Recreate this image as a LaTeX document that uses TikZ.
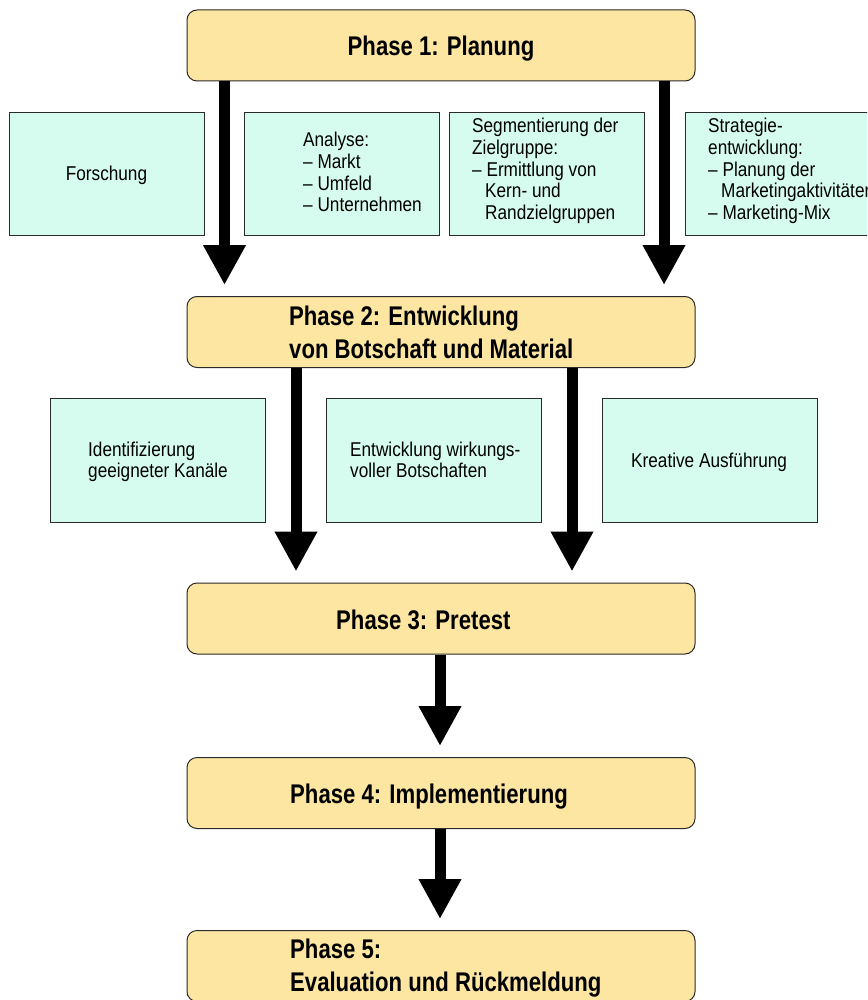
\documentclass[tikz,border=0pt]{standalone}
\usepackage{fontspec}
\setmainfont{Liberation Sans}
\newfontfamily\bodyfont[FakeStretch=0.86]{Liberation Sans}
\newfontfamily\phasefont[FakeStretch=0.82]{Liberation Sans}
\usetikzlibrary{arrows.meta}
\definecolor{phasefill}{HTML}{FCE6A2}
\definecolor{boxfill}{HTML}{D6FCF0}
\definecolor{edgecol}{HTML}{2A2A2A}
\newcommand\myind{\hspace*{13pt}}
\newcommand\lines[1]{\begin{tabular}[t]{@{}l@{}}#1\end{tabular}}
\tikzset{
 phase/.style={draw=edgecol, line width=1pt, fill=phasefill, rounded corners=10pt,
   minimum width=508pt, minimum height=71pt, inner sep=0pt},
 infobox/.style={draw=edgecol, line width=0.8pt, fill=boxfill, minimum width=195pt,
   minimum height=123pt, inner sep=0pt},
 ptext/.style={inner sep=0pt, anchor=base west, font=\phasefont\bfseries\fontsize{27}{33}\selectfont},
 btext/.style={inner sep=0pt, anchor=base west, font=\bodyfont\fontsize{20}{21.6}\selectfont},
 bigarrow/.style={line width=11pt, -{Triangle[width=40pt,length=40pt]}, shorten >=11pt},
}
\begin{document}
\begin{tikzpicture}[x=1pt,y=-1pt]
\useasboundingbox (0,0) rectangle (867,1000);
\clip (0,0) rectangle (867,1000);
% phase boxes
\node[phase] (p1) at (441,45.5) {};
\node[phase] (p2) at (441,332) {};
\node[phase] (p3) at (441,618.5) {};
\node[phase] (p4) at (441,793) {};
\node[phase] (p5) at (441,966) {};
% info boxes row 1
\node[infobox] (b1) at (106.5,173.5) {};
\node[infobox] (b2) at (342,173.5) {};
\node[infobox] (b3) at (546.5,173.5) {};
\node[infobox] (b4) at (782.5,173.5) {};
% info boxes row 2
\node[infobox, minimum width=215pt, minimum height=124pt] (c1) at (157.5,460) {};
\node[infobox, minimum width=215pt, minimum height=124pt] (c2) at (433.5,460) {};
\node[infobox, minimum width=215pt, minimum height=124pt] (c3) at (709.5,460) {};
% phase texts
\node[ptext, anchor=base] (t1) at (441,55.5) {Phase 1: Planung};
\node[ptext] (t2) at (289,325) {\lines{Phase 2: Entwicklung\\von Botschaft und Material}};
\node[ptext] (t3) at (336,629) {Phase 3: Pretest};
\node[ptext] (t4) at (290,803) {Phase 4: Implementierung};
\node[ptext] (t5) at (290,958) {\lines{Phase 5:\\Evaluation und Rückmeldung}};
% body texts
\node[btext, anchor=base] (u1) at (106.5,181) {Forschung};
\node[btext] (u2) at (303,147) {\lines{Analyse:\\– Markt\\– Umfeld\\– Unternehmen}};
\node[btext] (u3) at (472,133) {\lines{Segmentierung der\\Zielgruppe:\\– Ermittlung von\\\myind Kern- und\\\myind Randzielgruppen}};
\node[btext] (u4) at (708,133) {\lines{Strategie-\\entwicklung:\\– Planung der\\\myind Marketingaktivitäten\\– Marketing-Mix}};
\node[btext] (v1) at (88,456) {\lines{Identifizierung\\geeigneter Kanäle}};
\node[btext] (v2) at (350,456) {\lines{Entwicklung wirkungs-\\voller Botschaften}};
\node[btext] (v3) at (631,467) {Kreative Ausführung};
% arrow columns
\coordinate (x1) at (224.5,0);
\coordinate (x2) at (664,0);
\coordinate (x3) at (296,0);
\coordinate (x4) at (572,0);
\coordinate (x5) at (440,0);
\draw[bigarrow] (p1.south -| x1) -- (p2.north -| x1);
\draw[bigarrow] (p1.south -| x2) -- (p2.north -| x2);
\draw[bigarrow] (p2.south -| x3) -- (p3.north -| x3);
\draw[bigarrow] (p2.south -| x4) -- (p3.north -| x4);
\draw[bigarrow] (p3.south -| x5) -- (p4.north -| x5);
\draw[bigarrow] (p4.south -| x5) -- (p5.north -| x5);
\end{tikzpicture}
\end{document}
